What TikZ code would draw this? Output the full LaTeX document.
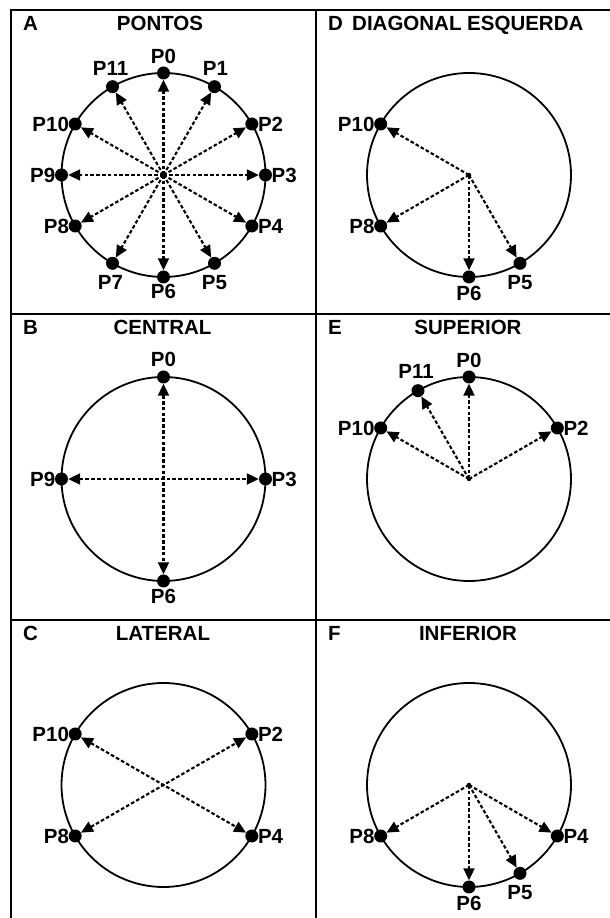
\documentclass[tikz,border=0pt]{standalone}
\usepackage{fontspec}
\setmainfont{Liberation Sans}
\usetikzlibrary{arrows.meta,calc}
\newcommand\mkpanel[3]{%
  \coordinate (#1c) at (#2);
  \draw[ring] (#1c) circle (102);
  \foreach \i/\a/\an/\dx/\dy in {#3} {
    \node[ptdot] (#1\i) at ($(#1c)+(\a:102)$) {};
    \node[lab,anchor=\an] (#1l\i) at ([shift={(\dx,\dy)}]#1\i.center) {P\i};
  }}
\begin{document}
\begin{tikzpicture}[x=1pt,y=1pt,
  frame/.style={line width=2pt},
  ring/.style={line width=1.8pt},
  ptdot/.style={circle,fill=black,inner sep=0pt,minimum size=13pt},
  ctr/.style={circle,fill=black,inner sep=0pt,minimum size=4.5pt},
  arr/.style={line width=2.1pt,dash pattern=on 3.6pt off 2.2pt,-{Triangle[length=12pt,width=11pt]}},
  darr/.style={line width=2.1pt,dash pattern=on 3.6pt off 2.2pt,{Triangle[length=12pt,width=11pt]}-{Triangle[length=12pt,width=11pt]}},
  lab/.style={font=\fontsize{20.5}{21}\bfseries\selectfont,inner sep=0pt},
  ttl/.style={font=\fontsize{20.5}{21}\bfseries\selectfont,inner sep=0pt,anchor=base},
]
\useasboundingbox (0,0) rectangle (610,918);
% frame
\draw[frame] (610,908) -- (11,908) -- (11,0);
\draw[frame] (316,908) -- (316,0);
\draw[frame] (11,604) -- (610,604);
\draw[frame] (11,298) -- (610,298);
% titles
\node[ttl,anchor=base west] (tA) at (23,887) {A};
\node[ttl] (tAt) at (160,887) {PONTOS};
\node[ttl,anchor=base west] (tB) at (23,583) {B};
\node[ttl] (tBt) at (162.5,583) {CENTRAL};
\node[ttl,anchor=base west] (tC) at (23,277) {C};
\node[ttl] (tCt) at (163,277) {LATERAL};
\node[ttl,anchor=base west] (tD) at (328,887) {D};
\node[ttl,anchor=base west] (tDt) at (352,887) {DIAGONAL ESQUERDA};
\node[ttl,anchor=base west] (tE) at (328,583) {E};
\node[ttl] (tEt) at (468,583) {SUPERIOR};
\node[ttl,anchor=base west] (tF) at (328,277) {F};
\node[ttl] (tFt) at (468,277) {INFERIOR};
% panel A
\mkpanel{A}{163.5,743}{0/90/south/0/9, 1/60/south/1/11, 2/30/west/6/0, 3/0/west/6/0, 4/-30/west/6/0, 5/-60/north/0/-12, 6/-90/north/0/-7, 7/-120/north/-2/-12, 8/210/east/-6/0, 9/180/east/-6/0, 10/150/east/-6/0, 11/120/south/-2/11}
\foreach \i in {0,...,11} {\draw[arr] (Ac) -- (A\i);}
\node[ctr,minimum size=7pt] (Acd) at (Ac) {};
% panel B
\mkpanel{B}{163.5,439}{0/90/south/0/10, 3/0/west/6/0, 6/-90/north/0/-8, 9/180/east/-6/0}
\draw[darr] (B0) -- (B6);
\draw[darr] (B9) -- (B3);
% panel C
\mkpanel{C}{163.5,133}{2/30/west/6/0, 4/-30/west/6/0, 8/210/east/-6/0, 10/150/east/-6/0}
\draw[darr] (C10) -- (C4);
\draw[darr] (C8) -- (C2);
% panel D
\mkpanel{D}{469,743}{5/-60/north/0/-12, 6/-90/north/0/-9, 8/210/east/-6/0, 10/150/east/-6/0}
\foreach \i in {5,6,8,10} {\draw[arr] (Dc) -- (D\i);}
\node[ctr] (Dcd) at (Dc) {};
% panel E
\mkpanel{E}{469,439}{0/90/south/0/9, 2/30/west/6/0, 10/150/east/-6/0, 11/120/south/-2/12}
\foreach \i in {0,2,10,11} {\draw[arr] (Ec) -- (E\i);}
\node[ctr] (Ecd) at (Ec) {};
% panel F
\mkpanel{F}{469,133}{4/-30/west/6/0, 5/-60/north/0/-12, 6/-90/north/0/-9, 8/210/east/-6/0}
\foreach \i in {4,5,6,8} {\draw[arr] (Fc) -- (F\i);}
\node[ctr] (Fcd) at (Fc) {};
\end{tikzpicture}
\end{document}
